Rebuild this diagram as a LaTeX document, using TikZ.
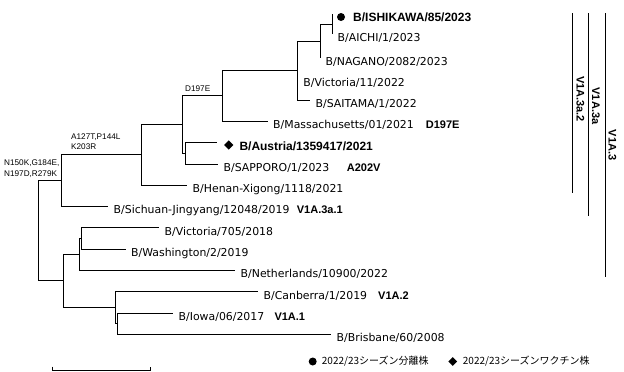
\documentclass[tikz,border=0pt]{standalone}
\usepackage{fontspec}
\setmainfont{DejaVu Sans}
\newfontfamily\libfont{Liberation Sans}
\newfontfamily\jpfont{Noto Sans CJK JP}
\usetikzlibrary{shapes.geometric}
\begin{document}
\begin{tikzpicture}[x=1pt,y=-1pt,
  br/.style={line width=0.8pt, black},
  leaf/.style={anchor=base west, inner sep=0pt, xshift=5.5pt, yshift=-7.5pt, font=\fontsize{10.9}{12}\selectfont},
  boldleaf/.style={anchor=base west, inner sep=0pt, font=\libfont\bfseries\fontsize{12}{14}\selectfont},
  mut/.style={anchor=base west, inner sep=0pt, font=\libfont\fontsize{8.2}{10}\selectfont},
  ann/.style={anchor=base west, inner sep=0pt, font=\libfont\bfseries\fontsize{11}{13}\selectfont},
  clade/.style={inner sep=0pt, rotate=-90, font=\libfont\bfseries\fontsize{11}{13}\selectfont},
  legtext/.style={anchor=west, inner sep=0pt, font=\jpfont\fontsize{10}{12}\selectfont},
  cbar/.style={line width=0.9pt, black}
]
\useasboundingbox (0,0) rectangle (624,372);

% leaf tips
\coordinate (tISH) at (332,14);
\coordinate (tAICHI) at (332,34);
\coordinate (tNAG) at (320,58);
\coordinate (tVic11) at (297.7,78.5);
\coordinate (tSAI) at (310,100);
\coordinate (tMass) at (267.5,121);
\coordinate (tAus) at (217,142.5);
\coordinate (tSAP) at (218,164);
\coordinate (tHen) at (187,185);
\coordinate (tSich) at (108,206);
\coordinate (tV705) at (159,227.5);
\coordinate (tWash) at (125.5,249);
\coordinate (tNeth) at (235,270);
\coordinate (tCanb) at (258,291.5);
\coordinate (tIowa) at (173,313);
\coordinate (tBris) at (331,334);

% internal nodes
\coordinate (H) at (332,24);
\coordinate (G) at (320,41);
\coordinate (F) at (297.7,70.5);
\coordinate (E) at (222,95.75);
\coordinate (D) at (185,153.25);
\coordinate (C) at (182,124.5);
\coordinate (B) at (141,154.75);
\coordinate (A) at (61,180.4);
\coordinate (L) at (81,238.25);
\coordinate (J) at (79,254.1);
\coordinate (M) at (117,323.5);
\coordinate (K) at (115,307.5);
\coordinate (I) at (63,280.8);
\coordinate (root) at (38,230.6);

% branches
\draw[br] (H) |- (tISH);
\draw[br] (H) |- (tAICHI);
\draw[br] (G) |- (H);
\draw[br] (G) |- (tNAG);
\draw[br] (F) |- (G);
\draw[br] (F) |- (tVic11);
\draw[br] (F) |- (tSAI);
\draw[br] (E) |- (F);
\draw[br] (E) |- (tMass);
\draw[br] (D) |- (tAus);
\draw[br] (D) |- (tSAP);
\draw[br] (C) |- (E);
\draw[br] (C) |- (D);
\draw[br] (B) |- (C);
\draw[br] (B) |- (tHen);
\draw[br] (A) |- (B);
\draw[br] (A) |- (tSich);
\draw[br] (L) |- (tV705);
\draw[br] (L) |- (tWash);
\draw[br] (J) |- (L);
\draw[br] (J) |- (tNeth);
\draw[br] (M) |- (tIowa);
\draw[br] (M) |- (tBris);
\draw[br] (K) |- (tCanb);
\draw[br] (K) |- (M);
\draw[br] (I) |- (J);
\draw[br] (I) |- (K);
\draw[br] (root) |- (A);
\draw[br] (root) |- (I);

% markers
\node[circle, fill=black, inner sep=0pt, minimum size=8pt] (mkISH) at (341,17) {};
\node[diamond, aspect=1, fill=black, inner sep=0pt, minimum size=9.5pt] (mkAus) at (228.8,145) {};

% leaf labels
\node[boldleaf] (nISH) at (353,21.5) {B/ISHIKAWA/85/2023};
\node[leaf] (nAICHI) at (tAICHI) {B/AICHI/1/2023};
\node[leaf] (nNAG) at (tNAG) {B/NAGANO/2082/2023};
\node[leaf] (nVic11) at (tVic11) {B/Victoria/11/2022};
\node[leaf] (nSAI) at (tSAI) {B/SAITAMA/1/2022};
\node[leaf] (nMass) at (tMass) {B/Massachusetts/01/2021};
\node[boldleaf] (nAus) at (239.3,150) {B/Austria/1359417/2021};
\node[leaf] (nSAP) at (tSAP) {B/SAPPORO/1/2023};
\node[leaf] (nHen) at (tHen) {B/Henan-Xigong/1118/2021};
\node[leaf] (nSich) at (tSich) {B/Sichuan-Jingyang/12048/2019};
\node[leaf] (nV705) at (tV705) {B/Victoria/705/2018};
\node[leaf] (nWash) at (tWash) {B/Washington/2/2019};
\node[leaf] (nNeth) at (tNeth) {B/Netherlands/10900/2022};
\node[leaf] (nCanb) at (tCanb) {B/Canberra/1/2019};
\node[leaf] (nIowa) at (tIowa) {B/Iowa/06/2017};
\node[leaf] (nBris) at (tBris) {B/Brisbane/60/2008};

% annotations
\node[ann] (aMass) at (425.7,128.5) {D197E};
\node[ann] (aSAP) at (346.7,171.5) {A202V};
\node[ann] (aSich) at (296.7,213.5) {V1A.3a.1};
\node[ann] (aCanb) at (378,299) {V1A.2};
\node[ann] (aIowa) at (274.3,320.5) {V1A.1};

% mutations
\node[mut] (m1) at (4,165.3) {N150K,G184E,};
\node[mut] (m2) at (4,176.7) {N197D,R279K};
\node[mut] (m3) at (71,139) {A127T,P144L};
\node[mut] (m4) at (71,149.3) {K203R};
\node[mut] (m5) at (185,91.5) {D197E};

% clade bars
\coordinate (c1t) at (572,13.3);
\coordinate (c1b) at (572,193.3);
\coordinate (c2t) at (588.5,13.3);
\coordinate (c2b) at (588.5,216);
\coordinate (c3t) at (605,13.3);
\coordinate (c3b) at (605,277);
\draw[cbar] (c1t) -- (c1b);
\draw[cbar] (c2t) -- (c2b);
\draw[cbar] (c3t) -- (c3b);
\node[clade] (cl1) at (580.5,99) {V1A.3a.2};
\node[clade] (cl2) at (596,106) {V1A.3a};
\node[clade] (cl3) at (612.5,145) {V1A.3};

% scale bar
\coordinate (s1) at (52.5,370);
\coordinate (s2) at (150.5,370);
\coordinate (s1u) at (52.5,366.5);
\coordinate (s2u) at (150.5,366.5);
\draw[br] (s1u) -- (s1) -- (s2) -- (s2u);

% legend
\node[circle, fill=black, inner sep=0pt, minimum size=8pt] (lc) at (312.7,361.5) {};
\node[legtext] (lt1) at (321.7,361.5) {2022/23シーズン分離株};
\node[diamond, aspect=1, fill=black, inner sep=0pt, minimum size=9pt] (ld) at (452.7,361.5) {};
\node[legtext] (lt2) at (462.7,361.5) {2022/23シーズンワクチン株};
\end{tikzpicture}
\end{document}
